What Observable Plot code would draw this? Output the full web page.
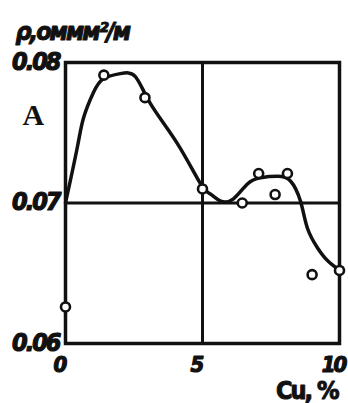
<!DOCTYPE html>
<html>
<head>
<meta charset="utf-8">
<script src="https://cdn.jsdelivr.net/npm/d3@7"></script>
<script src="https://cdn.jsdelivr.net/npm/@observablehq/plot@0.6"></script>
<style>
  html, body { margin: 0; padding: 0; background: #fff; }
  #chart svg { display: block; }
</style>
</head>
<body>
<div id="chart"></div>
<script>
// Measured points (Cu, % ; resistivity ρ, ohm·mm²/m)
const pointCu  = [0, 1.4, 2.9, 5.0, 6.45, 7.05, 7.65, 8.1, 9.0, 10.0];
const pointRho = [0.0626, 0.0791, 0.0775, 0.0710, 0.0700, 0.0721, 0.0706, 0.0721, 0.0649, 0.0652];

// Smooth fitted curve
const curveCu  = [0, 0.43, 0.66, 1.02, 1.39, 2.0, 2.55, 3.1, 4.09, 4.93, 5.29, 5.66, 6.13, 6.64, 7.12, 7.74, 8.21, 8.58, 8.83, 9.2, 9.56, 10.0];
const curveRho = [0.0700, 0.07395, 0.07607, 0.07786, 0.07886, 0.07921, 0.0790, 0.07707, 0.07421, 0.07136, 0.07064, 0.07014, 0.0703, 0.07136, 0.0718, 0.0719, 0.07157, 0.0701, 0.0682, 0.0668, 0.0659, 0.0652];

const xTicks = [0, 5, 10];
const xTickLabels = ["0", "5", "10"];
const yTicks = [0.06, 0.07, 0.08];
const yTickLabels = ["0.06", "0.07", "0.08"];
const yLabel = "ρ,оммм²/м";
const xLabel = "Cu, %";
const panelLetter = "A";

const points = pointCu.map((c, i) => ({cu: c, rho: pointRho[i]}));
const curve = curveCu.map((c, i) => ({cu: c, rho: curveRho[i]}));

const heavy = "'DejaVu Sans Condensed', 'DejaVu Sans', sans-serif";
const ink = "#111";

const chart = Plot.plot({
  width: 348,
  height: 403,
  marginLeft: 65,
  marginRight: 9,
  marginTop: 62,
  marginBottom: 60,
  x: {domain: [0, 10], axis: null},
  y: {domain: [0.06, 0.08], axis: null},
  marks: [
    Plot.ruleX([5], {stroke: ink, strokeWidth: 3}),
    Plot.ruleY([0.07], {stroke: ink, strokeWidth: 3}),
    Plot.frame({stroke: ink, strokeWidth: 3.5}),
    Plot.line(curve, {x: "cu", y: "rho", curve: "natural", stroke: ink, strokeWidth: 3.5}),
    Plot.dot(points, {x: "cu", y: "rho", r: 4.5, fill: "white", stroke: ink, strokeWidth: 2.6}),
    Plot.text(yTicks, {x: () => 0, y: d => d, text: (d, i) => yTickLabels[i], textAnchor: "end", dx: -6, dy: -1,
      fontFamily: heavy, fontWeight: "bold", fontStyle: "italic", fontSize: 25, fill: ink, stroke: ink, strokeWidth: 1.2}),
    Plot.text(xTicks, {x: d => d, y: () => 0.06, text: (d, i) => xTickLabels[i], textAnchor: "middle", lineAnchor: "top", dy: 13, dx: -6,
      fontFamily: heavy, fontWeight: "bold", fontStyle: "italic", fontSize: 22, fill: ink, stroke: ink, strokeWidth: 1.2}),
    Plot.text([xLabel], {frameAnchor: "bottom-right", text: d => d, textAnchor: "end", lineAnchor: "bottom", dx: -2, dy: 55,
      fontFamily: heavy, fontWeight: "bold", fontSize: 25, fill: ink, stroke: ink, strokeWidth: 1}),
    Plot.text([yLabel], {frameAnchor: "top-left", text: d => d, textAnchor: "start", lineAnchor: "bottom", dx: -50, dy: -23,
      fontFamily: heavy, fontWeight: "bold", fontStyle: "italic", fontSize: 25, fill: ink, stroke: ink, strokeWidth: 1}),
    Plot.text([panelLetter], {frameAnchor: "top-left", text: d => d, textAnchor: "start", lineAnchor: "bottom", dx: -43, dy: 62,
      fontFamily: "'Liberation Serif', serif", fontWeight: "bold", fontSize: 30, fill: ink})
  ]
});
chart.querySelectorAll("text").forEach(t => t.style.letterSpacing = "-2px");
document.getElementById("chart").appendChild(chart);
</script>
</body>
</html>
